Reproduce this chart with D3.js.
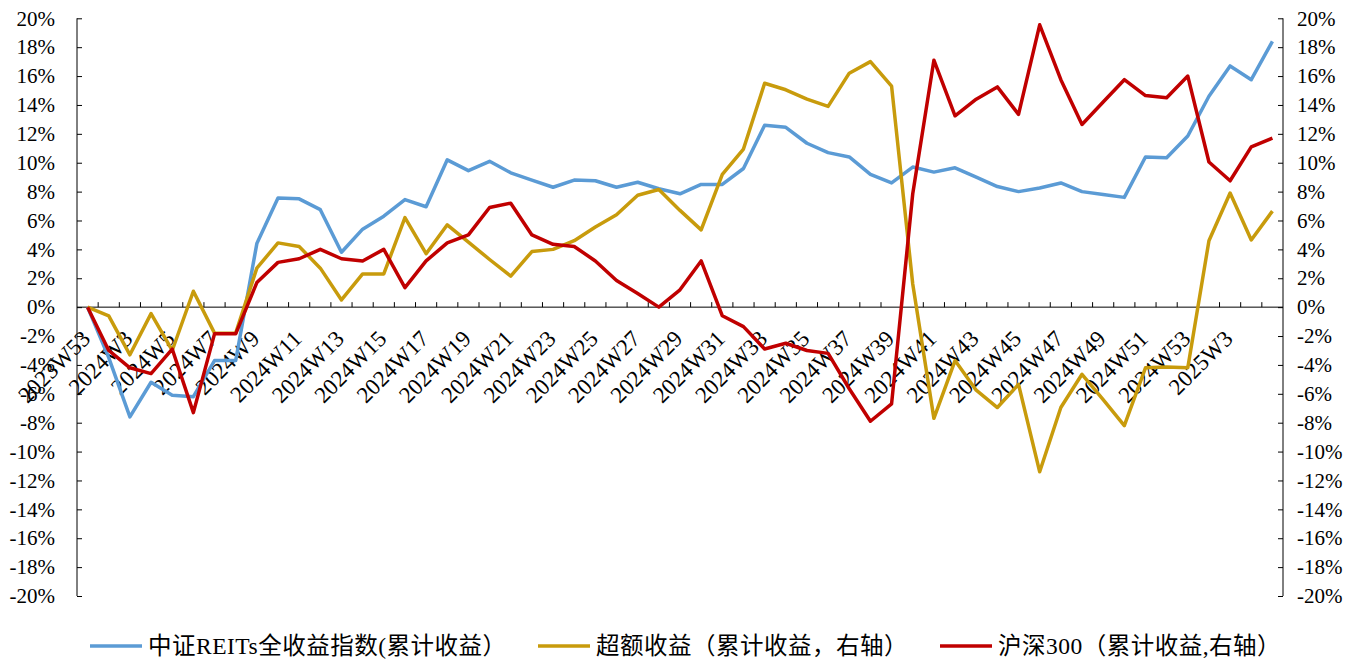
<!DOCTYPE html>
<html>
<head>
<meta charset="utf-8">
<script src="https://cdn.jsdelivr.net/npm/d3@7"></script>
<style>
  body { margin: 0; background: #fff; }
  svg { display: block; }
</style>
</head>
<body>
<div class="chart"></div>
<script>
const weeks = ["2023W53","2024W2","2024W3","2024W4","2024W5","2024W6","2024W7","2024W8","2024W9","2024W10",
  "2024W11","2024W12","2024W13","2024W14","2024W15","2024W16","2024W17","2024W18","2024W19","2024W20",
  "2024W21","2024W22","2024W23","2024W24","2024W25","2024W26","2024W27","2024W28","2024W29","2024W30",
  "2024W31","2024W32","2024W33","2024W34","2024W35","2024W36","2024W37","2024W38","2024W39","2024W40",
  "2024W41","2024W42","2024W43","2024W44","2024W45","2024W46","2024W47","2024W48","2024W49","2024W50",
  "2024W51","2024W52","2024W53","2025W2","2025W3","2025W4","2025W5"];

// 中证REITs全收益指数 (left axis), %
const reits = [0, -3.5, -7.6, -5.2, -6.1, -6.2, -3.7, -3.7, 4.4, 7.55,
  7.5, 6.75, 3.8, 5.4, 6.3, 7.45, 6.95, 10.2, 9.45, 10.1,
  9.3, 8.8, 8.3, 8.8, 8.75, 8.3, 8.65, 8.2, 7.85, 8.5,
  8.5, 9.6, 12.6, 12.45, 11.35, 10.7, 10.4, 9.2, 8.6, 9.7,
  9.35, 9.65, 9.0, 8.35, 8.0, 8.25, 8.6, 8.0, 7.8, 7.6,
  10.4, 10.35, 11.85, 14.6, 16.7, 15.75, 18.4];

// 超额收益 (right axis), %
const excess = [0, -0.6, -3.3, -0.45, -3.0, 1.1, -1.8, -1.8, 2.7, 4.45,
  4.2, 2.7, 0.5, 2.3, 2.3, 6.2, 3.7, 5.7, 4.5, 3.3,
  2.15, 3.85, 4.0, 4.6, 5.55, 6.4, 7.75, 8.15, 6.7, 5.35,
  9.2, 10.95, 15.5, 15.05, 14.4, 13.9, 16.2, 17.0, 15.3, 1.6,
  -7.7, -3.7, -5.75, -6.95, -5.35, -11.4, -6.95, -4.65, -6.4, -8.2,
  -4.2, -4.15, -4.2, 4.6, 7.9, 4.65, 6.65];

// 沪深300 (right axis), %
const hs300 = [0, -3.0, -4.2, -4.6, -2.9, -7.3, -1.85, -1.85, 1.7, 3.1,
  3.35, 4.0, 3.35, 3.2, 4.0, 1.35, 3.2, 4.45, 5.0, 6.9,
  7.2, 5.0, 4.35, 4.2, 3.2, 1.85, 0.95, 0.0, 1.2, 3.2,
  -0.6, -1.35, -2.9, -2.5, -3.0, -3.2, -5.65, -7.9, -6.7, 7.85,
  17.1, 13.25, 14.4, 15.25, 13.35, 19.55, 15.75, 12.65, 14.2, 15.75,
  14.65, 14.5, 16.0, 10.05, 8.75, 11.1, 11.7];

const yTicks = d3.range(-20, 21, 2);

const series = [
  {name: "中证REITs全收益指数(累计收益）", values: reits, colour: "#5B9BD5"},
  {name: "超额收益（累计收益，右轴）", values: excess, colour: "#C89B0C"},
  {name: "沪深300（累计收益,右轴）", values: hs300, colour: "#C00000"}
];

const width = 1368,
      height = 660,
      plotLeft = 77,
      plotRight = 1283,
      plotTop = 18.3,
      plotBottom = 596;

const svg = d3.select(".chart")
  .append("svg")
    .attr("width", width)
    .attr("height", height)
    .attr("font-family", "'Liberation Serif', 'Times New Roman', 'Noto Sans CJK SC', serif")
    .attr("font-size", 21);

let x = d3.scaleBand()
  .domain(weeks)
  .range([plotLeft, plotRight])
  .padding(0);

let y = d3.scaleLinear()
  .domain([-20, 20])
  .range([plotBottom, plotTop]);

let pct = d => d + "%";

// left axis
let leftAxis = svg.append("g")
  .attr("transform", `translate(${plotLeft},0)`)
  .call(d3.axisRight(y).tickValues(yTicks).tickSize(5).tickFormat(pct));
leftAxis.select(".domain").attr("d", `M0,${plotTop}V${plotBottom}`);
leftAxis.selectAll("text")
  .attr("x", -22)
  .attr("text-anchor", "end");

// right axis
let rightAxis = svg.append("g")
  .attr("transform", `translate(${plotRight},0)`)
  .call(d3.axisLeft(y).tickValues(yTicks).tickSize(5).tickFormat(pct));
rightAxis.select(".domain").attr("d", `M0,${plotTop}V${plotBottom}`);
rightAxis.selectAll("text")
  .attr("x", 14)
  .attr("text-anchor", "start");

svg.selectAll(".tick text").attr("fill", "#000");
svg.selectAll("g").attr("font-family", null).attr("font-size", null);
svg.selectAll(".domain, .tick line").attr("stroke", "#000");

// x axis at zero
let x0 = y(0);
svg.append("line")
  .attr("x1", plotLeft).attr("x2", plotRight)
  .attr("y1", x0).attr("y2", x0)
  .attr("stroke", "#000");

svg.append("g")
  .selectAll("line")
  .data(weeks.slice(1))
  .join("line")
    .attr("x1", d => x(d)).attr("x2", d => x(d))
    .attr("y1", x0).attr("y2", x0 - 5)
    .attr("stroke", "#000");

// every other week labelled, the last one is dropped like in the original
svg.append("g")
    .attr("font-size", 23)
  .selectAll("text")
  .data(weeks.filter((d, i) => i % 2 === 0 && i < weeks.length - 1))
  .join("text")
    .attr("transform", d => `translate(${x(d) + x.bandwidth() / 2 + 4},${x0 + 33}) rotate(-45)`)
    .attr("text-anchor", "end")
    .text(d => d);

// lines
let line = d3.line()
  .x((d, i) => x(weeks[i]) + x.bandwidth() / 2)
  .y(d => y(d));

svg.append("g")
    .attr("fill", "none")
    .attr("stroke-width", 3.5)
    .attr("stroke-linejoin", "round")
  .selectAll("path")
  .data(series)
  .join("path")
    .attr("stroke", d => d.colour)
    .attr("d", d => line(d.values));

// legend
const legendX = [90, 538, 940];
let legend = svg.append("g")
    .attr("font-size", 23.5)
    .attr("letter-spacing", 0.5)
  .selectAll("g")
  .data(series)
  .join("g")
    .attr("transform", (d, i) => `translate(${legendX[i]},646)`);

legend.append("line")
  .attr("x1", 0).attr("x2", 52)
  .attr("stroke", d => d.colour)
  .attr("stroke-width", 3.5);

legend.append("text")
  .attr("x", 58)
  .attr("dy", "0.35em")
  .text(d => d.name);
</script>
</body>
</html>
